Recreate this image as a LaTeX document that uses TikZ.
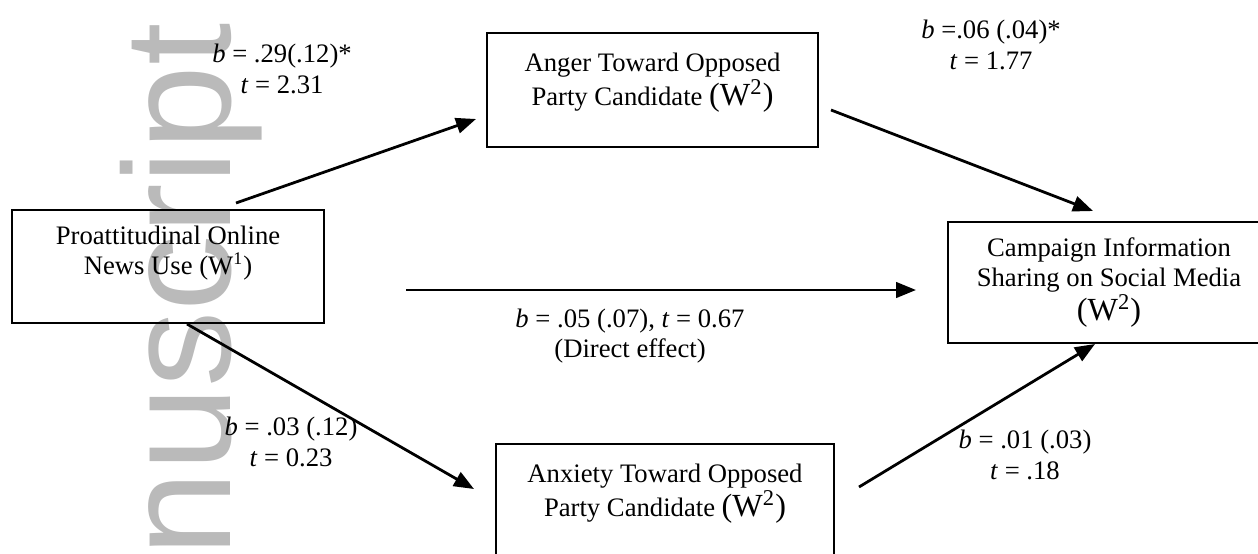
\documentclass[tikz,border=0pt]{standalone}
\usepackage{fontspec}
\setmainfont{Liberation Serif}
\newfontfamily\markfont{Liberation Sans}
\usetikzlibrary{arrows.meta,calc}
\newcommand{\px}{0.45pt}

\begin{document}
\begin{tikzpicture}[
x=\px,y=-\px,
->,>={Triangle[length=9pt,width=7pt]},line width=1.25pt,
box node/.style={draw,line width=0.9pt,align=center,inner sep=0pt,
  font=\fontsize{12}{13.6}\selectfont},
coef node/.style={align=center,inner sep=0pt,font=\fontsize{12}{13.6}\selectfont}]
\useasboundingbox (0,0) rectangle (1258,553);
%watermark
  \node[rotate=90,anchor=base east,inner sep=0pt,text=black!27,
    font=\markfont\fontsize{68.5}{68}\selectfont] (mark) at (230,22) {nuscript};
%1
  \node[box node,minimum width=312*\px,minimum height=113*\px] (prox) at (168,266.5)
    {Proattitudinal Online\\News Use (W\textsuperscript{1})\\[-3pt]\strut};
%2
  \node[box node,minimum width=331*\px,minimum height=114*\px] (anger) at (652.5,90)
    {Anger Toward Opposed\\Party Candidate {\fontsize{14.5}{14}\selectfont(W\textsuperscript{2})}\\[-8pt]\strut};
%3
  \node[box node,minimum width=338*\px,minimum height=114*\px] (anxiety) at (665,501)
    {Anxiety Toward Opposed\\Party Candidate {\fontsize{14.5}{14}\selectfont(W\textsuperscript{2})}\\[-8pt]\strut};
%4
  \node[box node,minimum width=322*\px,minimum height=121*\px] (share) at (1109,282.5)
    {Campaign Information\\Sharing on Social Media\\{\fontsize{14.5}{14}\selectfont(W\textsuperscript{2})}};
%coefficients
  \node[coef node] (b1) at (282,69) {\textit{b} = .29(.12)*\\\textit{t} = 2.31};
  \node[coef node] (b2) at (991,45) {\textit{b} =.06 (.04)*\\\textit{t} = 1.77};
  \node[coef node] (b3) at (630,336) {\textit{b} = .05 (.07), \textit{t} = 0.67\\(Direct effect)};
  \node[coef node] (b4) at (291,442) {\textit{b} = .03 (.12)\\\textit{t} = 0.23};
  \node[coef node] (b5) at (1025,455) {\textit{b} = .01 (.03)\\\textit{t} = .18};
%paths
  \draw ($(prox.north)+(68,-6)$) -- ($(anger.west)+(-10,29)$);
  \draw ($(anger.east)+(12,20)$) -- ($(share.north)+(-16,-10)$);
  \draw ($(prox.east)+(81,23.5)$) -- ($(share.west)+(-31,7.5)$);
  \draw ($(prox.south)+(19,0)$) -- ($(anxiety.north west)+(-21,46)$);
  \draw ($(anxiety.north east)+(24,44)$) -- ($(share.south)+(-14,0)$);
\end{tikzpicture}
\end{document}
